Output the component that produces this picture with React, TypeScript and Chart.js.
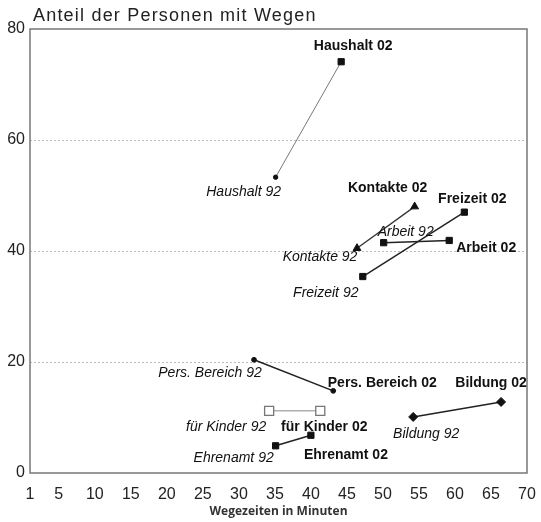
import React, { useEffect, useRef } from 'react';
import { Chart, registerables } from 'chart.js';

Chart.register(...registerables);

// ---- data ----
const categories = ['Haushalt', 'Kontakte', 'Arbeit', 'Freizeit', 'Pers. Bereich', 'für Kinder', 'Ehrenamt', 'Bildung'];
const minutes92 = [35.1, 46.4, 50.1, 47.2, 32.1, 34.2, 35.1, 54.2];
const share92 = [53.3, 40.5, 41.5, 35.4, 20.4, 11.2, 4.9, 10.1];
const minutes02 = [44.2, 54.4, 59.2, 61.3, 43.1, 41.3, 40.0, 66.4];
const share02 = [74.1, 48.0, 41.9, 47.0, 14.8, 11.2, 6.8, 12.8];
const xTickValues = [1, 5, 10, 15, 20, 25, 30, 35, 40, 45, 50, 55, 60, 65, 70];
const yTickValues = [0, 20, 40, 60, 80];
const chartTitle = 'Anteil der Personen mit Wegen';
const xTitle = 'Wegezeiten in Minuten';

// ---- styles ----
const FONT = '"Liberation Sans", Arial, sans-serif';
type SeriesStyle = {
  line: string;
  lw: number;
  shapes: [string, string];
  radius: [number, number];
  fill: string;
  border: string;
  bw: number;
};
const seriesStyles: SeriesStyle[] = [
  { line: '#777', lw: 1, shapes: ['circle', 'rect'], radius: [2.2, 4.4], fill: '#111', border: '#111', bw: 1 },
  { line: '#333', lw: 1.3, shapes: ['triangle', 'triangle'], radius: [4.5, 4.5], fill: '#111', border: '#111', bw: 1 },
  { line: '#222', lw: 1.5, shapes: ['rect', 'rect'], radius: [4.4, 4.4], fill: '#111', border: '#111', bw: 1 },
  { line: '#222', lw: 1.5, shapes: ['rect', 'rect'], radius: [4.4, 4.4], fill: '#111', border: '#111', bw: 1 },
  { line: '#222', lw: 1.5, shapes: ['circle', 'circle'], radius: [2.4, 2.4], fill: '#111', border: '#111', bw: 1 },
  { line: '#888', lw: 1, shapes: ['rect', 'rect'], radius: [6.4, 6.4], fill: '#fff', border: '#777', bw: 1.3 },
  { line: '#222', lw: 1.5, shapes: ['rect', 'rect'], radius: [4.4, 4.4], fill: '#111', border: '#111', bw: 1 },
  { line: '#222', lw: 1.5, shapes: ['rectRot', 'rectRot'], radius: [4.5, 4.5], fill: '#111', border: '#111', bw: 1 },
];
// label offsets (px) from the point: [dx, dy]
const labelOffsets92: [number, number][] = [
  [-32, 15], [-37, 9], [22, -11], [-37, 17], [-44, 13], [-43, 16], [-42, 12], [13, 17],
];
const labelOffsets02: [number, number][] = [
  [12, -16], [-27, -18], [37, 8], [8, -13], [49, -8], [4, 16], [35, 20], [-10, -19],
];

const labelPlugin = {
  id: 'pointLabels',
  afterDatasetsDraw(chart: any) {
    const ctx = chart.ctx;
    ctx.save();
    ctx.fillStyle = '#111';
    ctx.textAlign = 'center';
    ctx.textBaseline = 'middle';
    categories.forEach((cat, i) => {
      const meta = chart.getDatasetMeta(i);
      const p0 = meta.data[0];
      const p1 = meta.data[1];
      ctx.font = `italic 14px ${FONT}`;
      ctx.fillText(`${cat} 92`, p0.x + labelOffsets92[i][0], p0.y + labelOffsets92[i][1]);
      ctx.font = `bold 14px ${FONT}`;
      ctx.fillText(`${cat} 02`, p1.x + labelOffsets02[i][0], p1.y + labelOffsets02[i][1]);
    });
    ctx.restore();
  },
};

const framePlugin = {
  id: 'frame',
  beforeDatasetsDraw(chart: any) {
    const { ctx, chartArea } = chart;
    ctx.save();
    ctx.strokeStyle = '#777';
    ctx.lineWidth = 1.5;
    ctx.strokeRect(chartArea.left, chartArea.top, chartArea.right - chartArea.left, chartArea.bottom - chartArea.top);
    ctx.restore();
  },
  afterDraw(chart: any) {
    const ctx = chart.ctx;
    ctx.save();
    ctx.fillStyle = '#222';
    ctx.font = `18px ${FONT}`;
    try { (ctx as any).letterSpacing = '1.2px'; } catch (e) {}
    ctx.textAlign = 'left';
    ctx.textBaseline = 'alphabetic';
    ctx.fillText(chartTitle, 33, 21);
    ctx.restore();
  },
};

export default function App() {
  const canvasRef = useRef<HTMLCanvasElement | null>(null);

  useEffect(() => {
    if (!canvasRef.current) return;
    const datasets = categories.map((cat, i) => {
      const s = seriesStyles[i];
      return {
        label: cat,
        data: [
          { x: minutes92[i], y: share92[i] },
          { x: minutes02[i], y: share02[i] },
        ],
        showLine: true,
        borderColor: s.line,
        borderWidth: s.lw,
        pointStyle: s.shapes,
        pointRadius: s.radius,
        pointBackgroundColor: s.fill,
        pointBorderColor: s.border,
        pointBorderWidth: s.bw,
      };
    });

    const chart = new Chart(canvasRef.current, {
      type: 'scatter',
      data: { datasets: datasets as any },
      options: {
        animation: false,
        responsive: true,
        maintainAspectRatio: false,
        layout: { padding: { top: 29, right: 14, left: 0, bottom: 0 } },
        plugins: {
          legend: { display: false },
          tooltip: { enabled: false },
          title: { display: false },
        },
        scales: {
          x: {
            type: 'linear',
            min: 1,
            max: 70,
            afterBuildTicks: (scale: any) => {
              scale.ticks = xTickValues.map((v) => ({ value: v }));
            },
            afterFit: (scale: any) => {
              scale.height = 49;
              scale.paddingLeft = 0;
              scale.paddingRight = 0;
            },
            grid: { display: false, drawTicks: false },
            border: { display: false },
            ticks: {
              autoSkip: false,
              maxRotation: 0,
              padding: 12,
              color: '#222',
              font: { family: FONT, size: 16 },
            },
            title: {
              display: true,
              text: xTitle,
              color: '#333',
              font: { family: '"Open Sans", sans-serif', size: 12, weight: 'bold' },
              padding: { top: 0, bottom: 3 },
            },
          },
          y: {
            type: 'linear',
            min: 0,
            max: 80,
            afterBuildTicks: (scale: any) => {
              scale.ticks = yTickValues.map((v) => ({ value: v }));
            },
            afterFit: (scale: any) => {
              scale.width = 30;
              scale.paddingTop = 0;
              scale.paddingBottom = 0;
            },
            grid: {
              drawTicks: false,
              color: (c: any) => (c.tick && (c.tick.value === 0 || c.tick.value === 80) ? 'rgba(0,0,0,0)' : '#bbb'),
              lineWidth: 1,
            },
            border: { display: false, dash: [2, 2] },
            ticks: {
              padding: 5,
              color: '#222',
              font: { family: FONT, size: 16 },
            },
          },
        },
      },
      plugins: [framePlugin, labelPlugin],
    });
    return () => chart.destroy();
  }, []);

  return (
    <div style={{ position: 'absolute', left: 0, top: 0, width: 541, height: 522, background: '#fff' }}>
      <canvas ref={canvasRef} />
    </div>
  );
}
